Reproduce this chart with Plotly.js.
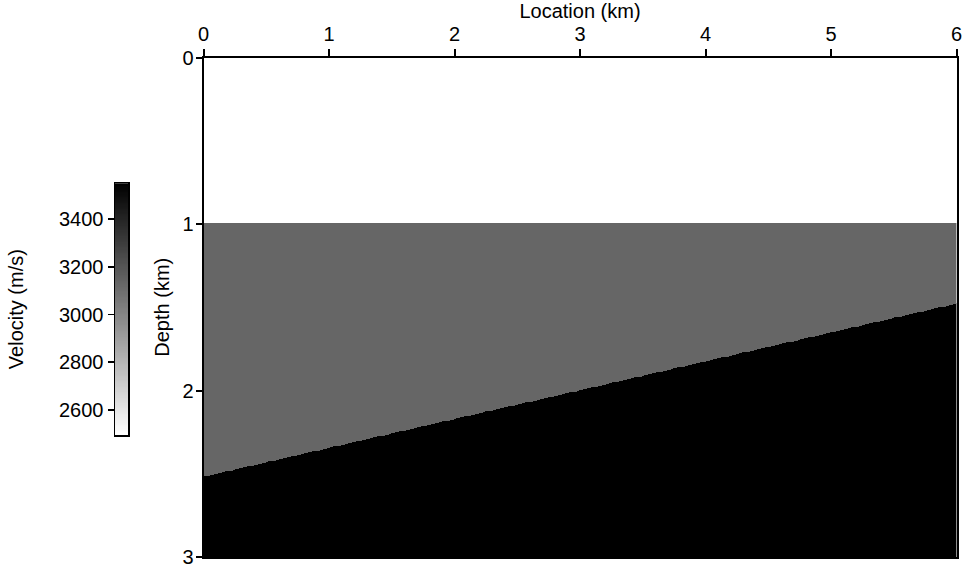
<!DOCTYPE html>
<html>
<head>
<meta charset="utf-8">
<script src="https://cdn.plot.ly/plotly-3.0.1.min.js"></script>
<style>html,body{margin:0;padding:0;background:#fff;}#chart{width:966px;height:568px;}</style>
</head>
<body>
<div id="chart"></div>
<script>
// ---- data ----
const interfaceX = [0, 6];                 // km, lateral control points
const interface1Depth = [1.0, 1.0];        // km, top of layer 2
const interface2Depth = [2.52, 1.48];      // km, top of layer 3
const layerVelocity = [2500, 3130, 3550];  // m/s, layers 1..3
const velocityTicks = [2600, 2800, 3000, 3200, 3400];
const locationTicks = [0, 1, 2, 3, 4, 5, 6];
const depthTicks = [0, 1, 2, 3];
const vMin = 2500, vMax = 3550;
const barMin = 2495;

// ---- build the gridded model from the interfaces ----
function interp(xs, ys, x) {
  const t = (x - xs[0]) / (xs[1] - xs[0]);
  return ys[0] + t * (ys[1] - ys[0]);
}
const gx = [], gy = [];
for (let i = 0; i <= 600; i++) gx.push(i * 0.01);
for (let j = 0; j <= 600; j++) gy.push(j * 0.005);
const gz = gy.map(d => gx.map(x => {
  const d1 = interp(interfaceX, interface1Depth, x);
  const d2 = interp(interfaceX, interface2Depth, x);
  return d < d1 ? layerVelocity[0] : (d < d2 ? layerVelocity[1] : layerVelocity[2]);
}));

// colour bar samples
const cbY = [];
for (let v = barMin; v <= vMax; v += 5) cbY.push(v);
const cbZ = cbY.map(v => [v]);

const grey = [[0, '#ffffff'], [1, '#000000']];
const font = {family: 'Liberation Sans, Arial, sans-serif', size: 20, color: '#000'};

const traces = [
  {type: 'heatmap', x: gx, y: gy, z: gz, colorscale: grey, zmin: vMin, zmax: vMax,
   showscale: false, zsmooth: false, xaxis: 'x', yaxis: 'y', hoverinfo: 'skip'},
  {type: 'heatmap', x: [0.5], y: cbY, z: cbZ, colorscale: grey, zmin: vMin, zmax: vMax,
   showscale: false, xaxis: 'x2', yaxis: 'y2', hoverinfo: 'skip'}
];

const layout = {
  width: 966, height: 568,
  margin: {l: 0, r: 0, t: 0, b: 0},
  paper_bgcolor: '#fff', plot_bgcolor: '#fff',
  font: font,
  showlegend: false,
  xaxis: {
    domain: [203.5/966, 956.5/966], range: [0, 6], side: 'top', anchor: 'y',
    tickvals: locationTicks, ticks: 'outside', ticklen: 7, tickwidth: 2, tickcolor: '#000',
    showline: true, linewidth: 2, linecolor: '#000', mirror: true,
    showgrid: false, zeroline: false, automargin: false,
    ticklabeloverflow: 'allow',
    tickfont: {size: 20},
    title: {text: 'Location (km)', font: {size: 20}, standoff: 6}
  },
  yaxis: {
    domain: [1 - 557/568, 1 - 57.5/568], range: [3, 0], anchor: 'x',
    tickvals: depthTicks, ticks: 'outside', ticklen: 6, tickwidth: 2, tickcolor: '#000',
    showline: true, linewidth: 2, linecolor: '#000', mirror: true,
    showgrid: false, zeroline: false, automargin: false,
    ticklabeloverflow: 'allow', ticklabelstandoff: -2,
    tickfont: {size: 20},
    title: {text: 'Depth (km)', font: {size: 20}, standoff: 7}
  },
  xaxis2: {
    domain: [115/966, 128/966], range: [0, 1], anchor: 'y2',
    showticklabels: false, ticks: '', showgrid: false, zeroline: false,
    showline: true, linewidth: 1.5, linecolor: '#000', mirror: true, automargin: false
  },
  yaxis2: {
    domain: [1 - 435/568, 1 - 183.3/568], range: [barMin, vMax], anchor: 'x2',
    tickvals: velocityTicks, ticks: 'outside', ticklen: 6, tickwidth: 1.5, tickcolor: '#000',
    showline: true, linewidth: 1.5, linecolor: '#000', mirror: true,
    showgrid: false, zeroline: false, automargin: false,
    ticklabeloverflow: 'allow',
    tickfont: {size: 20},
    title: {text: 'Velocity (m/s)', font: {size: 20}, standoff: 30}
  }
};

Plotly.newPlot('chart', traces, layout, {staticPlot: true, displayModeBar: false});
</script>
</body>
</html>
